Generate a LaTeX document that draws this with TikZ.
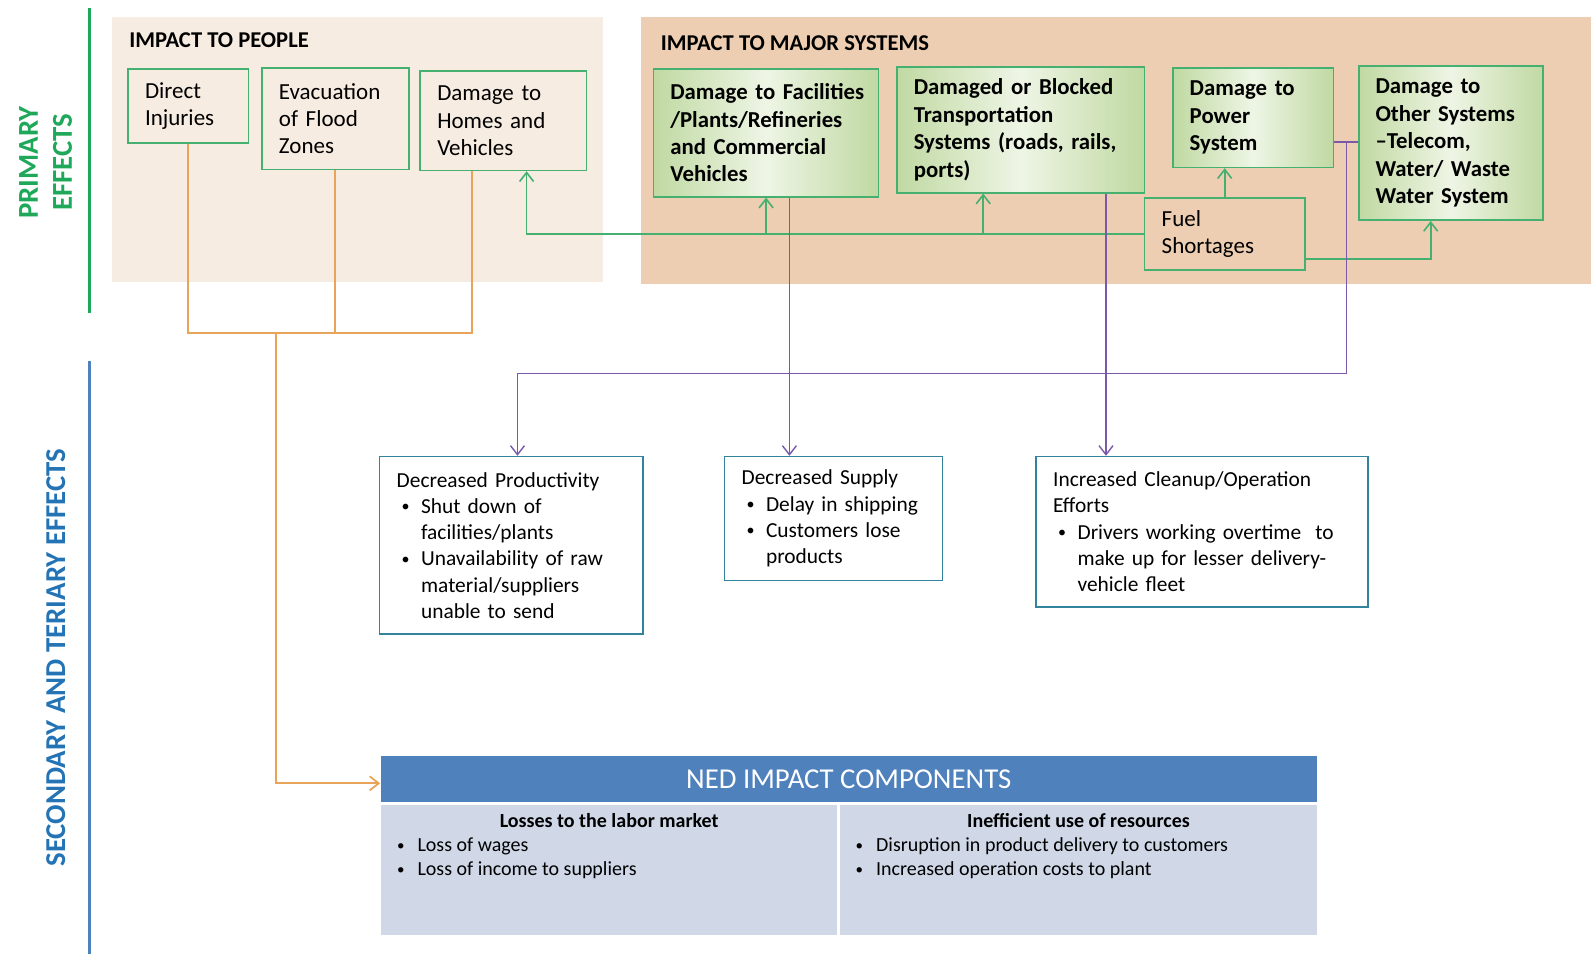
\documentclass[tikz,border=0pt]{standalone}
\usepackage{fontspec}
\setmainfont{Carlito}
\usetikzlibrary{arrows.meta,calc}
\definecolor{gcol}{HTML}{45B070}
\definecolor{ocol}{HTML}{E8A55A}
\definecolor{pcol}{HTML}{7A5AA8}
\definecolor{tealb}{HTML}{31849B}
\definecolor{peachA}{HTML}{F7ECE2}
\definecolor{peachB}{HTML}{EDCEB2}
\definecolor{gl}{HTML}{C0D9A2}
\definecolor{gm}{HTML}{EEF5E5}
\definecolor{primg}{HTML}{1FA85A}
\definecolor{secb}{HTML}{2373B5}
\definecolor{nedb}{HTML}{4F81BD}
\definecolor{nedl}{HTML}{D0D8E8}
\hyphenpenalty=10000
\exhyphenpenalty=10000
\newcommand\smbul{\raisebox{0.15ex}{\scalebox{0.75}{\textbullet}}}
\newcommand\mybul{\hspace*{2.5pt}\makebox[9.7pt][l]{\smbul}}
\newcommand\myind{\hspace*{12.2pt}}
\newcommand\nedbul{\hspace*{8.1pt}\makebox[10.2pt][l]{\smbul}}
\begin{document}
\begin{tikzpicture}[x=0.5074pt,y=-0.5074pt,
 tip/.style={-{Straight Barb[length=4.5pt,width=7pt]}},
 gline/.style={draw=gcol, line width=0.8pt},
 oline/.style={draw=ocol, line width=0.9pt},
 pline/.style={draw=pcol, line width=0.7pt},
 pplbox/.style={draw=gcol, line width=0.8pt, align=left, inner xsep=8.6pt, inner ysep=0pt, font=\fontsize{11.5}{13.7}\selectfont},
 sysbox/.style={draw=gcol, line width=0.8pt, left color=gl, right color=gl, middle color=gm, align=left, inner xsep=8.4pt, inner ysep=0pt, font=\bfseries\fontsize{11.4}{13.7}\selectfont},
 effbox/.style={draw=tealb, line width=0.8pt, fill=white, align=left, inner xsep=8.6pt, inner ysep=0pt, font=\fontsize{10.7}{13.1}\selectfont},
 areatitle/.style={font=\bfseries\fontsize{11.3}{13}\selectfont, anchor=west, inner sep=0pt},
 nedcell/.style={fill=nedl, inner sep=0pt, anchor=north west, font=\fontsize{10}{12.2}\selectfont},
]
\useasboundingbox (0,0) rectangle (1568,940);

% backgrounds
\fill[peachA] (110,17) rectangle (594,278);
\fill[peachB] (632,17) rectangle (1568,280);

% section lines and labels
\draw[primg, line width=1.5pt] (88,8) -- (88,308);
\draw[nedb, line width=1.5pt] (88,356) -- (88,940);
\node[rotate=90, align=center, text=primg, font=\bfseries\fontsize{14.4}{17}\selectfont] (lprim) at (45,160) {PRIMARY\\EFFECTS};
\node[rotate=90, text=secb, font=\bfseries\fontsize{14.4}{17}\selectfont] (lsec) at (55,648) {SECONDARY AND TERIARY EFFECTS};

% titles
\node[areatitle] (tp) at (127,40) {IMPACT TO PEOPLE};
\node[areatitle] (tm) at (651,43) {IMPACT TO MAJOR SYSTEMS};

% impact to people
\node[pplbox, minimum width=60.4pt, minimum height=37pt, text width=43.2pt] (inj) at (185.5,104.5) {Direct\\Injuries};
\node[pplbox, minimum width=73.6pt, minimum height=50.7pt, text width=56.4pt] (evac) at (330.5,117) {Evacuation\\of~Flood\\Zones};
\node[pplbox, minimum width=83.2pt, minimum height=49.7pt, text width=66pt] (homes) at (496,119) {Damage~to\\Homes~and\\Vehicles};

% major systems
\node[sysbox, minimum width=112.6pt, minimum height=63.9pt, text width=95.8pt] (fac) at (755,131) {Damage~to~Facilities\\/Plants/Refineries\\and~Commercial\\Vehicles};
\node[sysbox, minimum width=123.8pt, minimum height=62.9pt, text width=107pt] (trans) at (1006,128) {Damaged~or~Blocked\\Transportation\\Systems~(roads,~rails,\\ports)};
\node[sysbox, minimum width=80.2pt, minimum height=49.7pt, text width=63.4pt] (power) at (1235,116) {Damage~to\\Power\\System};
\node[sysbox, minimum width=92.3pt, minimum height=77.1pt, text width=75.5pt] (other) at (1430,141) {Damage~to\\Other~Systems\\\textendash Telecom,\\Water/~Waste\\Water~System};
\node[pplbox, minimum width=80.2pt, minimum height=36pt, text width=63pt] (fuel) at (1207,230.5) {Fuel\\Shortages};

% secondary effects
\node[effbox, minimum width=131.9pt, minimum height=88.8pt, text width=114.7pt] (prod) at (504,537.5) {Decreased~Productivity\\\mybul Shut~down~of\\\myind facilities/plants\\\mybul Unavailability~of~raw\\\myind material/suppliers\\\myind unable~to~send};
\node[effbox, minimum width=109.1pt, minimum height=61.9pt, text width=91.9pt] (supply) at (821.5,511) {Decreased~Supply\\\mybul Delay~in~shipping\\\mybul Customers~lose\\\myind products};
\node[effbox, minimum width=165.9pt, minimum height=75.1pt, text width=148.7pt] (clean) at (1184.5,524) {Increased~Cleanup/Operation\\Efforts\\\mybul Drivers~working~overtime~~to\\\myind make~up~for~lesser~delivery-\\\myind vehicle~fleet};

% NED
\node[fill=nedb, text=white, font=\fontsize{14.4}{17}\selectfont, minimum width=468.3pt, minimum height=22.8pt, inner sep=0pt] (ned) at (836.5,767.5) {NED IMPACT COMPONENTS};
\node[nedcell] (nedL) at (375,793) {\parbox[c][64.9pt][t]{228.3pt}{\vspace*{4pt}\makebox[228.3pt]{\bfseries Losses to the labor market}\\
\nedbul Loss of wages\\
\nedbul Loss of income to suppliers}};
\node[nedcell] (nedR) at (827,793) {\parbox[c][64.9pt][t]{239pt}{\vspace*{4pt}\makebox[239pt]{\bfseries Inefficient use of resources}\\
\nedbul Disruption in product delivery to customers\\
\nedbul Increased operation costs to plant}};

% green connectors
\coordinate (hs) at ($(homes.south)+(23,0)$);
\draw[gline, tip] (fuel.west) -| (hs);
\draw[gline, tip] (fac.south |- fuel.west) -- (fac.south);
\coordinate (ts) at ($(trans.south)+(-37,0)$);
\draw[gline, tip] (ts |- fuel.west) -- (ts);
\draw[gline, tip] (fuel.north) -- (fuel.north |- power.south);
\coordinate (fe) at ($(fuel.east)+(0,24.5)$);
\coordinate (os) at ($(other.south)+(-20,0)$);
\draw[gline, tip] (fe) -| (os);

% orange connectors
\coordinate (ob) at (272,328);
\coordinate (hs2) at ($(homes.south)+(-31,0)$);
\draw[oline] (inj.south) |- (hs2 |- ob) -- (hs2);
\draw[oline] (evac.south) -- (evac.south |- ob);
\coordinate (nw) at ($(ned.west)+(0,4.5)$);
\draw[oline, tip] (ob) |- (nw);

% purple connectors
\coordinate (p1) at ($(fac.south)+(23,0)$);
\draw[pline, tip] (p1) -- (p1 |- supply.north);
\coordinate (p2) at ($(trans.south)+(84,0)$);
\draw[pline, tip] (p2) -- (p2 |- clean.north);
\coordinate (p3) at ($(power.east)+(0,24)$);
\draw[pline] (p3) -- (p3 -| other.west);
\coordinate (p4) at ($(p3)+(12,0)$);
\coordinate (p5) at ($(prod.north)+(6,0)$);
\coordinate (pturn) at (510,368);
\draw[pline, tip] (p4) |- (p5 |- pturn) -- (p5);
\end{tikzpicture}
\end{document}
